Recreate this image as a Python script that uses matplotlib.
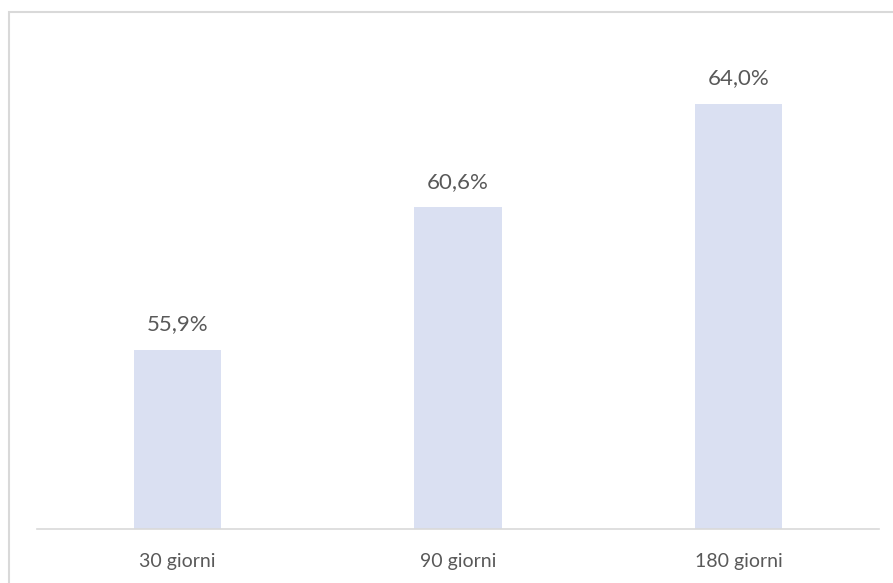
import matplotlib.pyplot as plt
from matplotlib.patches import Rectangle

categories = ['30 giorni', '90 giorni', '180 giorni']
values = [55.9, 60.6, 64.0]
labels = ['55,9%', '60,6%', '64,0%']

plt.rcParams['font.family'] = ['Lato', 'DejaVu Sans']

fig = plt.figure(figsize=(8.93, 5.83), dpi=100)
fig.patches.append(Rectangle((9 / 893, -0.1), 1.0, 1 - 12 / 583 + 0.1,
                             transform=fig.transFigure, fill=False,
                             edgecolor='#d9d9d9', linewidth=1.5))

ax = fig.add_axes([37 / 893, 54 / 583, 842 / 893, 486 / 583])
x = range(len(categories))
ax.bar(x, [v - 50 for v in values], bottom=50, width=0.31, color='#dae0f2')
for i, (v, lab) in enumerate(zip(values, labels)):
    ax.annotate(lab, (i, v), xytext=(0, 11), textcoords='offset points',
                ha='center', va='bottom', fontsize=16, color='#595959')

ax.set_xlim(-0.5, 2.5)
ax.set_ylim(50, 66)
ax.set_xticks(list(x))
ax.set_xticklabels(categories, fontsize=14, color='#595959')
ax.tick_params(axis='x', length=0, pad=17)
ax.set_yticks([])
for s in ['top', 'right', 'left']:
    ax.spines[s].set_visible(False)
ax.spines['bottom'].set_color('#d9d9d9')
ax.spines['bottom'].set_linewidth(1.2)

fig.savefig('out.png', dpi=100)
